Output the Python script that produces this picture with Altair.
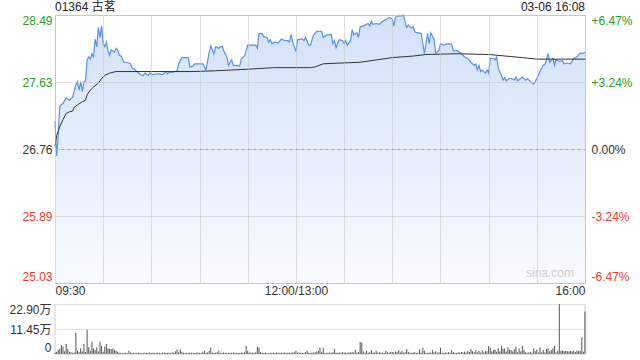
import altair as alt
import pandas as pd

# ---------------- data ----------------
# minute index from 09:30 (0) to 16:00 (330), lunch break removed
price_points = [
    (0, 27.12), (1, 26.67), (2, 26.93), (3, 27.31), (5, 27.35), (7, 27.42), (9, 27.39), (11, 27.43),
    (13, 27.59), (14, 27.63), (15, 27.52), (16, 27.63), (17, 27.50), (18, 27.63), (19, 27.64),
    (20, 27.91), (21, 27.95), (22, 27.92), (23, 27.99), (24, 27.95), (25, 28.18), (26, 28.08),
    (27, 28.33), (28, 28.20), (29, 28.35), (30, 28.12), (31, 28.08), (32, 28.14), (33, 28.03),
    (34, 27.97), (35, 28.04), (37, 28.01), (38, 28.06), (39, 28.04), (40, 27.97), (41, 27.96),
    (43, 27.88), (44, 27.88), (46, 27.87), (47, 27.86), (48, 27.81), (50, 27.78), (52, 27.74),
    (54, 27.71), (55, 27.71), (56, 27.74), (58, 27.71), (59, 27.74), (61, 27.72), (63, 27.73),
    (65, 27.73), (67, 27.72), (69, 27.76), (70, 27.73), (71, 27.75), (73, 27.75), (76, 27.77),
    (77, 27.86), (79, 27.94), (83, 27.94), (84, 27.82), (86, 27.83), (87, 27.86), (92, 27.86),
    (94, 27.78), (96, 28.01), (97, 28.09), (99, 27.99), (100, 28.08), (102, 28.06), (104, 28.09),
    (105, 28.03), (106, 27.99), (107, 27.95), (108, 27.84), (110, 27.91), (111, 27.84), (113, 27.84),
    (115, 27.83), (116, 27.92), (118, 27.96), (119, 28.03), (120, 28.10), (123, 28.10), (125, 28.10),
    (126, 28.06), (127, 28.25), (129, 28.25), (130, 28.21), (132, 28.20), (133, 28.14), (134, 28.17),
    (135, 28.12), (137, 28.14), (139, 28.13), (141, 28.18), (143, 28.16), (145, 28.16), (146, 28.14),
    (147, 28.24), (148, 28.14), (150, 28.02), (151, 28.17), (154, 28.18), (155, 28.16), (156, 28.20),
    (158, 28.10), (159, 28.10), (161, 28.23), (163, 28.28), (166, 28.28), (167, 28.20), (169, 28.23),
    (172, 28.24), (173, 28.12), (174, 28.16), (175, 28.07), (177, 28.17), (179, 28.16), (180, 28.12),
    (181, 28.16), (182, 28.10), (184, 28.16), (185, 28.30), (186, 28.23), (188, 28.26), (189, 28.20),
    (190, 28.34), (192, 28.35), (195, 28.38), (196, 28.35), (197, 28.41), (198, 28.37), (200, 28.38),
    (202, 28.37), (204, 28.41), (206, 28.43), (208, 28.46), (210, 28.44), (211, 28.35), (212, 28.46),
    (214, 28.48), (216, 28.48), (217, 28.49), (218, 28.40), (219, 28.33), (220, 28.36), (222, 28.32),
    (223, 28.34), (224, 28.27), (226, 28.26), (228, 28.25), (229, 28.12), (230, 27.99), (231, 28.12),
    (232, 28.25), (233, 28.12), (234, 28.26), (236, 28.18), (237, 28.00), (239, 28.03), (240, 28.12),
    (242, 28.10), (243, 28.11), (245, 28.12), (247, 28.11), (248, 28.03), (250, 28.03), (252, 28.01),
    (254, 27.97), (255, 27.95), (257, 27.93), (259, 27.88), (261, 27.84), (262, 27.86), (263, 27.78),
    (264, 27.84), (265, 27.76), (266, 27.78), (268, 27.74), (269, 27.78), (270, 27.74), (271, 27.93),
    (273, 27.93), (274, 27.91), (275, 27.95), (276, 27.80), (278, 27.71), (279, 27.65), (280, 27.68),
    (281, 27.64), (283, 27.67), (284, 27.67), (286, 27.65), (287, 27.69), (288, 27.64), (290, 27.67),
    (291, 27.69), (293, 27.65), (294, 27.67), (296, 27.63), (298, 27.60), (299, 27.63), (300, 27.67),
    (302, 27.76), (303, 27.80), (304, 27.84), (305, 27.85), (306, 27.91), (307, 27.99), (308, 27.88),
    (310, 27.93), (311, 27.84), (312, 27.91), (314, 27.89), (316, 27.90), (317, 27.86), (319, 27.87),
    (321, 27.86), (323, 27.93), (325, 27.95), (327, 28.00), (328, 27.99), (330, 28.01),
]

avg_points = [
    (0, 26.80), (1, 26.93), (3, 27.05), (5, 27.14), (7, 27.22), (9, 27.24), (11, 27.25), (12, 27.30),
    (14, 27.33), (17, 27.37), (19, 27.39), (20, 27.46), (22, 27.52), (24, 27.56), (27, 27.61),
    (29, 27.67), (31, 27.71), (34, 27.74), (38, 27.76), (86, 27.76), (100, 27.77), (120, 27.79),
    (136, 27.81), (159, 27.81), (162, 27.82), (167, 27.86), (190, 27.88), (210, 27.94), (223, 27.96),
    (231, 27.98), (250, 27.99), (270, 27.98), (291, 27.94), (300, 27.92), (330, 27.92),
]

# volume per minute, in 万
volume = [
    0.6, 1.0, 1.8, 2.5, 4.1, 3.4, 1.2, 4.6, 2.3, 1.0,
    0.8, 0.6, 0.7, 9.8, 1.5, 0.9, 2.6, 1.2, 4.6, 0.9,
    11.1, 3.1, 1.5, 5.6, 2.6, 1.8, 3.0, 1.2, 5.6, 3.7,
    1.0, 3.4, 4.6, 2.6, 2.3, 2.3, 2.6, 1.8, 1.5, 1.0,
    0.6, 0.5, 0.4, 0.5, 0.6, 0.5, 1.5, 0.7, 0.5, 0.6,
    0.4, 0.5, 0.6, 0.5, 0.4, 0.5, 0.6, 0.5, 0.5, 0.7,
    0.5, 0.6, 0.4, 0.5, 0.6, 0.5, 0.4, 0.6, 0.7, 0.5,
    0.5, 0.6, 0.5, 0.8, 0.6, 1.2, 2.1, 0.8, 2.1, 1.0,
    0.6, 0.5, 0.6, 0.5, 0.7, 0.5, 0.6, 0.5, 0.6, 0.7,
    0.5, 0.6, 0.8, 1.5, 0.6, 0.7, 1.5, 2.9, 0.6, 0.5,
    0.6, 0.8, 1.5, 0.5, 0.6, 0.7, 0.5, 0.6, 0.5, 0.6,
    0.5, 0.7, 0.6, 0.5, 0.6, 0.5, 0.7, 0.6, 0.8, 3.7,
    1.5, 0.6, 0.7, 0.6, 0.5, 0.8, 3.4, 2.9, 0.9, 0.6,
    0.5, 0.6, 0.5, 0.4, 0.6, 0.5, 0.6, 0.5, 0.7, 0.5,
    0.6, 0.5, 0.6, 0.7, 0.5, 0.6, 0.5, 0.6, 0.7, 0.8,
    1.5, 0.6, 0.7, 0.6, 0.5, 0.6, 0.8, 1.5, 0.6, 0.5,
    0.7, 0.6, 0.8, 1.2, 1.5, 2.9, 0.8, 2.9, 0.6, 0.5,
    0.6, 0.7, 0.6, 0.8, 2.4, 0.6, 0.5, 0.7, 0.6, 0.8,
    0.6, 0.7, 0.5, 0.8, 0.6, 0.9, 0.7, 1.8, 0.6, 0.9,
    5.6, 5.2, 1.2, 0.6, 1.5, 0.6, 0.8, 1.8, 0.7, 0.6,
    1.5, 0.7, 0.8, 0.6, 0.7, 0.5, 1.5, 0.8, 0.6, 1.0,
    0.9, 0.7, 1.2, 0.9, 1.8, 0.7, 1.4, 0.6, 0.8, 2.3,
    1.0, 0.6, 0.5, 0.7, 0.8, 0.5, 0.6, 2.1, 0.6, 2.9,
    1.5, 0.6, 0.5, 0.7, 0.6, 1.8, 0.8, 1.2, 0.6, 0.8,
    2.9, 0.6, 0.5, 0.7, 0.6, 0.8, 0.6, 1.8, 0.9, 0.6,
    0.5, 0.8, 0.6, 0.9, 0.7, 1.1, 0.6, 1.4, 0.9, 2.3,
    1.3, 0.8, 1.8, 0.7, 1.4, 0.6, 1.8, 0.8, 1.3, 1.2,
    3.7, 2.9, 1.2, 1.8, 2.1, 1.0, 2.6, 1.2, 3.8, 2.4,
    2.6, 1.0, 3.1, 2.0, 1.8, 1.2, 2.1, 3.4, 0.8, 2.5,
    1.2, 3.8, 1.8, 0.8, 0.6, 0.7, 1.0, 0.6, 2.6, 1.3,
    2.1, 0.7, 3.1, 0.8, 1.8, 0.7, 2.3, 2.6, 1.2, 1.8,
    2.6, 3.7, 0.8, 1.5, 22.9, 1.5, 1.5, 1.3, 1.4, 1.3,
    1.2, 1.4, 1.2, 1.5, 0.9, 1.6, 1.3, 1.5, 7.6, 1.0,
    19.4,
]

price_ticks = [25.03, 25.895, 26.76, 27.625, 28.49]
price_labels = ["25.03", "25.89", "26.76", "27.63", "28.49"]
pct_labels = ["-6.47%", "-3.24%", "0.00%", "+3.24%", "+6.47%"]
vol_ticks = [0, 11.45, 22.9]
vol_labels = ["0", "11.45万", "22.90万"]
time_ticks = [0, 30, 60, 90, 120, 150, 180, 210, 240, 270, 300, 330]
time_labels = {0: "09:30", 150: "12:00/13:00", 330: "16:00"}

title_text = "01364 古茗"
date_text = "03-06 16:08"
watermark = "sina.com"

# ---------------- frames ----------------
price_df = pd.DataFrame(price_points, columns=["t", "p"])
avg_df = pd.DataFrame(avg_points, columns=["t", "p"])
vol_df = pd.DataFrame({"t": list(range(len(volume))), "v": volume})

W, H, VH = 530, 268, 50
FONT = "Arial, 'Liberation Sans', 'Noto Sans CJK SC', sans-serif"
GREEN = "#25a025"
RED = "#ee3b2e"
GRID = "#c2c2c2"


def js_list(vals):
    return "[" + ",".join(repr(v) if not isinstance(v, str) else "'" + v + "'" for v in vals) + "]"


ticks_js = js_list(price_ticks)
color_expr = f"datum.value > 26.77 ? '{GREEN}' : (datum.value < 26.75 ? '{RED}' : '#333333')"

xscale = alt.Scale(domain=[0, 330], nice=False, zero=False)
yscale = alt.Scale(domain=[25.03, 28.49], nice=False, zero=False)

time_expr = " : ".join(f"datum.value == {k} ? '{v}'" for k, v in time_labels.items()) + " : ''"

x_main = alt.X(
    "t:Q", scale=xscale, title=None,
    axis=alt.Axis(values=time_ticks, grid=True, gridDash=[1, 1], gridColor=GRID, ticks=False,
                  domain=False, labelExpr=time_expr, labelFlush=True, labelOverlap=False,
                  labelFont=FONT, labelFontSize=12, labelColor="#333333", labelPadding=2,
                  minExtent=14, maxExtent=14, zindex=1),
)

area = alt.Chart(price_df).mark_area(
    color=alt.Gradient(
        gradient="linear",
        stops=[alt.GradientStop(color="#f8faff", offset=0),
               alt.GradientStop(color="#d3e1f8", offset=1)],
        x1=1, x2=1, y1=1, y2=0,
    ),
    interpolate="linear",
).encode(
    x=x_main,
    y=alt.Y("p:Q", scale=yscale, title=None,
            axis=alt.Axis(values=price_ticks, grid=True,
                          gridDash={"expr": "datum.value == 26.76 ? [3, 1, 1, 1] : [1, 1]"},
                          gridColor={"expr": f"datum.value == 26.76 ? '#a8a8a8' : '{GRID}'"},
                          ticks=False, domain=False, labelFlush=True,
                          labelExpr=f"{js_list(price_labels)}[indexof({ticks_js}, datum.value)]",
                          labelColor={"expr": color_expr}, labelFont=FONT, labelFontSize=12,
                          labelPadding=3, minExtent=54, maxExtent=54, zindex=1)),
    y2=alt.datum(25.03),
)

line = alt.Chart(price_df).mark_line(color="#5a92e6", strokeWidth=1.2).encode(
    x=alt.X("t:Q", scale=xscale),
    y=alt.Y("p:Q", scale=yscale, axis=None),
)

avg = alt.Chart(avg_df).mark_line(color="#333333", strokeWidth=1).encode(
    x=alt.X("t:Q", scale=xscale),
    y=alt.Y("p:Q", scale=yscale, title=None,
            axis=alt.Axis(orient="right", values=price_ticks, grid=False, ticks=False,
                          domain=False, labelFlush=True,
                          labelExpr=f"{js_list(pct_labels)}[indexof({ticks_js}, datum.value)]",
                          labelColor={"expr": color_expr}, labelFont=FONT, labelFontSize=12,
                          labelPadding=6)),
)

txt_df = pd.DataFrame({"title": [title_text], "date": [date_text], "wm": [watermark]})
title_mark = alt.Chart(txt_df).mark_text(align="left", baseline="bottom", font=FONT, fontSize=12,
                                          color="#222222").encode(
    x=alt.value(0), y=alt.value(-1), text="title:N")
date_mark = alt.Chart(txt_df).mark_text(align="right", baseline="bottom", font=FONT, fontSize=12,
                                         color="#222222").encode(
    x=alt.value(W), y=alt.value(-1), text="date:N")
wm_mark = alt.Chart(txt_df).mark_text(align="right", baseline="bottom", font=FONT, fontSize=12,
                                       color="#cfcfcf").encode(
    x=alt.value(W - 11), y=alt.value(H - 3), text="wm:N")

main = alt.layer(area, line, avg, title_mark, date_mark, wm_mark).resolve_scale(
    y="independent"
).properties(width=W, height=H, view=alt.ViewBackground(stroke="#cccccc", strokeWidth=1))

vol_bars = alt.Chart(vol_df).mark_rule(color="#555555", strokeWidth=1).encode(
    x=alt.X("t:Q", scale=xscale, axis=None),
    y=alt.Y("v:Q", scale=alt.Scale(domain=[0, 22.9], nice=False), title=None,
            axis=alt.Axis(values=vol_ticks, grid=True, gridDash=[1, 1], gridColor=GRID,
                          ticks=False, domain=False, labelFlush=True,
                          labelExpr=f"{js_list(vol_labels)}[indexof({js_list(vol_ticks)}, datum.value)]",
                          labelColor="#333333", labelFont=FONT, labelFontSize=12,
                          labelPadding=4, minExtent=54, maxExtent=54)),
    y2=alt.datum(0),
)
borders = alt.Chart(txt_df).mark_rule(color="#cccccc", strokeWidth=1).encode(
    x=alt.value(0), y=alt.value(0), y2=alt.value(VH))
borders_r = alt.Chart(txt_df).mark_rule(color="#cccccc", strokeWidth=1).encode(
    x=alt.value(W), y=alt.value(0), y2=alt.value(VH))

vol = alt.layer(borders, borders_r, vol_bars).properties(
    width=W, height=VH, view=alt.ViewBackground(strokeOpacity=0))

chart = alt.vconcat(main, vol, spacing=5).properties(
    padding={"left": 0, "top": 0, "right": 0, "bottom": 0}, background="white"
)

chart.save("out.html", embed_options={"renderer": "svg", "actions": False})
